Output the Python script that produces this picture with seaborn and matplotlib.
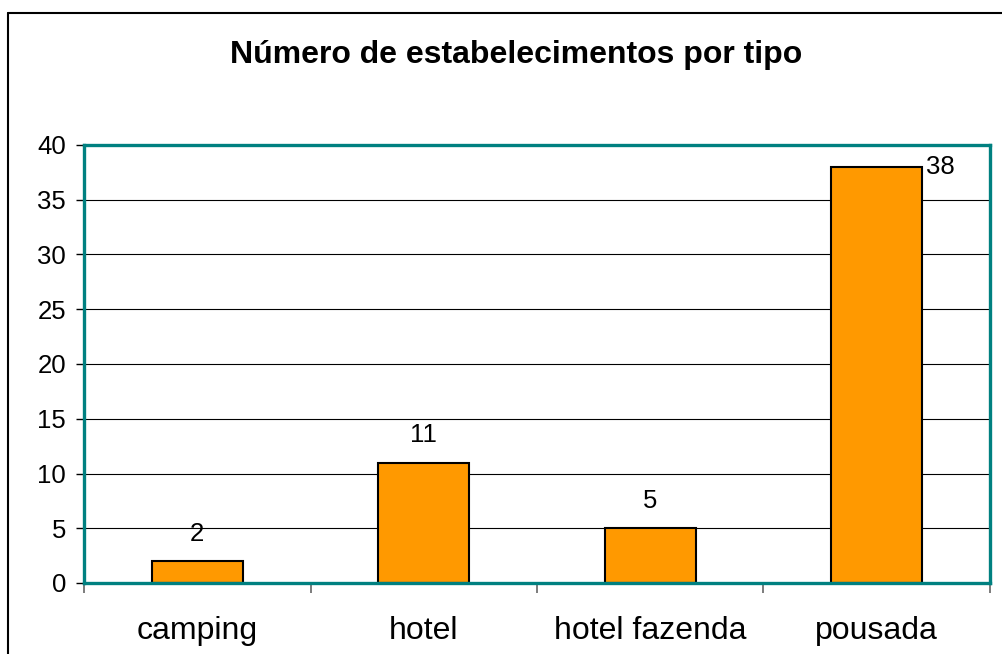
import matplotlib
matplotlib.use('Agg')
import matplotlib.pyplot as plt
import seaborn as sns
from matplotlib.lines import Line2D

# Data
tipos = ['camping', 'hotel', 'hotel fazenda', 'pousada']
numeros = [2, 11, 5, 38]
titulo = 'Número de estabelecimentos por tipo'
y_ticks = [0, 5, 10, 15, 20, 25, 30, 35, 40]

sns.set_style('white')
plt.rcParams['font.family'] = ['Liberation Sans', 'DejaVu Sans']
plt.rcParams['text.color'] = 'black'

fig = plt.figure(figsize=(10.03, 6.54), dpi=100)
ax = fig.add_axes([84 / 1003, 1 - 583 / 654, 906 / 1003, 438 / 654])

sns.barplot(x=tipos, y=numeros, color='#FF9900', saturation=1, width=0.4,
            edgecolor='black', linewidth=1.5, ax=ax, zorder=3)

ax.set_xlim(-0.5, len(tipos) - 0.5)
ax.set_ylim(0, 40)
ax.set_yticks(y_ticks)
ax.set_yticklabels([str(t) for t in y_ticks], fontsize=18.5)
ax.yaxis.grid(True, color='black', linewidth=0.8, zorder=0)
ax.set_axisbelow(True)

# x ticks between categories, labels centered
ax.set_xticks(range(len(tipos)))
ax.set_xticklabels(tipos, fontsize=23)
ax.tick_params(axis='x', which='major', length=0, pad=24, labelcolor='black')
ax.set_xticks([i - 0.5 for i in range(len(tipos) + 1)], minor=True)
ax.tick_params(axis='x', which='minor', length=7, width=1.2, color='#666666', direction='out', bottom=True)
ax.tick_params(axis='y', length=6, width=1, color='black', direction='out', left=True, pad=7, labelcolor='black')

for s in ax.spines.values():
    s.set_color('#008080')
    s.set_linewidth(2.4)
    s.set_zorder(4)

ax.set_xlabel('')
ax.set_ylabel('')

# value labels
for i, v in enumerate(numeros):
    if v > 36:
        ax.annotate(str(v), (i + 0.2, v), xytext=(3, 0), textcoords='offset points',
                    ha='left', va='center', fontsize=18.5, color='black')
    else:
        ax.annotate(str(v), (i, v), xytext=(0, 11), textcoords='offset points',
                    ha='center', va='bottom', fontsize=18.5, color='black')

fig.text(516 / 1003, 1 - 55 / 654, titulo, ha='center', va='center',
         fontsize=23, fontweight='bold', color='black')

# chart frame (left and top edges visible)
fig.add_artist(Line2D([8 / 1003, 8 / 1003], [0, 1 - 13 / 654], color='black', linewidth=1.5))
fig.add_artist(Line2D([8 / 1003, 1], [1 - 13 / 654, 1 - 13 / 654], color='black', linewidth=1.5))

fig.savefig('out.png', dpi=100)
